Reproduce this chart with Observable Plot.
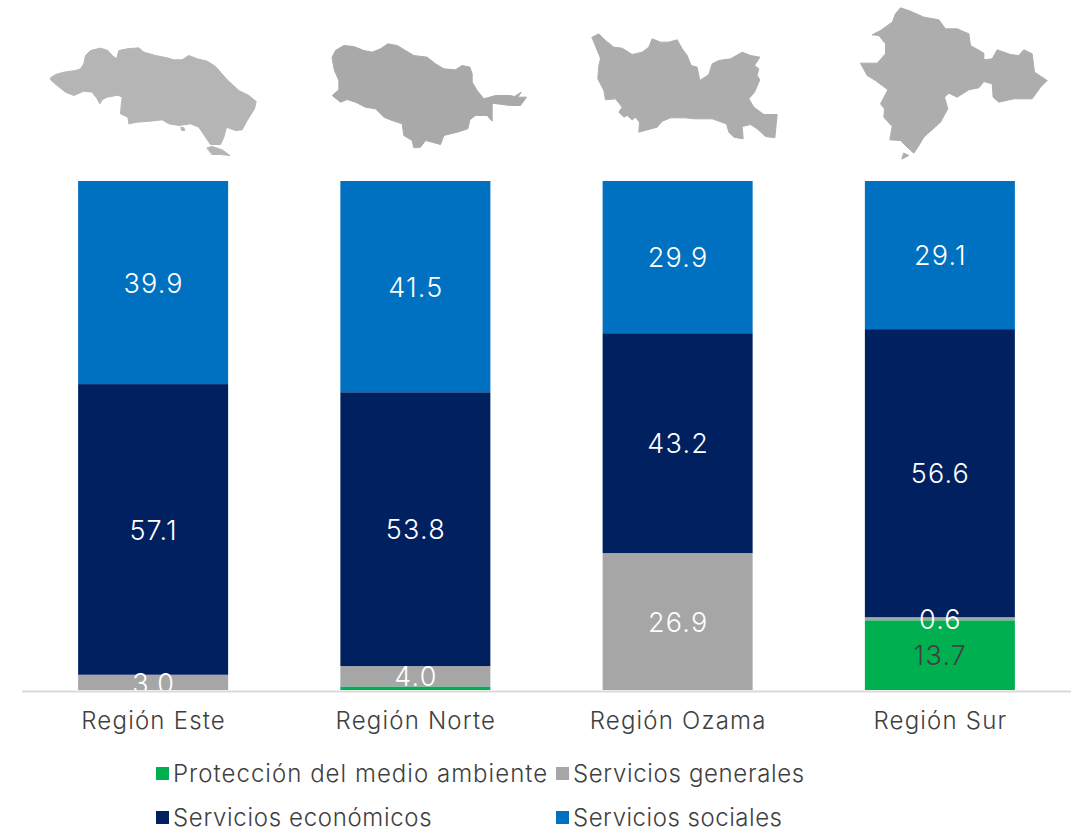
<!DOCTYPE html>
<html><head><meta charset="utf-8">
<script src="https://cdn.jsdelivr.net/npm/d3@7"></script>
<script src="https://cdn.jsdelivr.net/npm/@observablehq/plot@0.6"></script>
<style>
html,body{margin:0;padding:0;background:#fff;overflow:hidden}
body{width:1079px;height:829px;position:relative;font-family:Inter,sans-serif;font-weight:300}
svg{display:block}
#chart svg text{letter-spacing:1.2px}
#legend{position:absolute;left:0;top:752px;width:1079px;height:77px;color:#404040;font-size:24px}
.li{position:absolute;white-space:nowrap;line-height:24px}
.sw{position:absolute;width:13px;height:13px}
</style></head><body>
<div id="maps"></div><div id="chart"></div><div id="legend"></div>
<script>
const regions=["Región Este","Región Norte","Región Ozama","Región Sur"];
const seriesNames=["Protección del medio ambiente","Servicios generales","Servicios económicos","Servicios sociales"];
const seriesColors=["#00b050","#a6a6a6","#002060","#0070c0"];
const proteccion=[0,0.7,0,13.7];
const generales=[3.0,4.0,26.9,0.6];
const economicos=[57.1,53.8,43.2,56.6];
const sociales=[39.9,41.5,29.9,29.1];
const seriesValues=[proteccion,generales,economicos,sociales];

// Silhouettes (offset, rings at 3x)
const este=[[60,232],[75,222],[100,215],[135,210],[150,205],[160,190],[165,165],[180,150],[210,143],[232,150],[245,165],[258,175],[265,150],[290,145],[325,142],[340,155],[375,165],[410,172],[430,178],[455,178],[475,165],[500,175],[530,182],[555,198],[590,238],[625,270],[655,285],[677,303],[672,325],[650,360],[635,388],[615,390],[588,380],[580,410],[570,432],[540,432],[525,410],[505,380],[480,370],[445,375],[415,370],[395,358],[360,362],[320,365],[295,370],[292,350],[270,340],[272,315],[275,290],[262,284],[230,290],[215,298],[208,310],[200,295],[185,275],[160,272],[130,285],[105,275],[80,255],[62,240]];
const esteIsla1=[[530,442],[545,438],[575,448],[598,465],[570,462],[545,462]];
const esteIsla2=[[452,380],[460,382],[463,390],[454,390]];
const norte=[[905,170],[915,150],[940,135],[970,138],[1000,150],[1025,155],[1050,145],[1072,130],[1100,135],[1125,150],[1150,165],[1190,170],[1215,190],[1240,205],[1275,208],[1295,195],[1318,200],[1325,220],[1325,245],[1340,270],[1360,295],[1395,285],[1440,285],[1452,288],[1472,275],[1462,290],[1488,290],[1470,315],[1440,315],[1385,308],[1385,335],[1385,362],[1370,345],[1335,345],[1318,358],[1312,385],[1280,395],[1240,405],[1230,432],[1205,425],[1185,420],[1170,440],[1150,442],[1145,420],[1120,405],[1115,370],[1085,360],[1060,350],[1035,325],[1005,320],[975,305],[950,297],[930,305],[905,285],[925,268],[925,240],[912,210]];
const ozama=[[65,110],[85,100],[105,120],[130,140],[155,143],[185,162],[215,155],[235,140],[245,115],[270,125],[295,125],[320,118],[335,145],[350,165],[362,195],[380,200],[388,240],[415,222],[425,190],[445,180],[480,175],[515,155],[540,165],[568,170],[552,195],[565,205],[560,225],[568,238],[552,275],[535,295],[550,320],[580,342],[620,342],[613,412],[585,408],[560,385],[540,372],[515,378],[518,415],[490,410],[475,395],[468,370],[425,355],[375,355],[345,352],[300,352],[275,362],[260,380],[205,395],[207,365],[195,350],[185,358],[170,345],[160,350],[145,335],[155,320],[135,295],[105,298],[100,270],[82,235],[85,195],[90,175]];
const sur=[[975,40],[990,22],[1020,32],[1060,50],[1105,58],[1125,85],[1160,85],[1195,100],[1200,135],[1240,158],[1240,178],[1265,175],[1280,148],[1320,162],[1345,165],[1360,148],[1385,160],[1392,215],[1430,240],[1410,260],[1385,295],[1330,295],[1285,305],[1268,290],[1265,250],[1240,243],[1225,262],[1195,268],[1160,290],[1135,278],[1122,290],[1132,325],[1110,365],[1060,410],[1045,435],[1030,458],[1010,440],[990,420],[958,418],[965,378],[940,350],[942,325],[930,310],[952,268],[915,240],[890,225],[870,188],[920,188],[945,160],[945,130],[925,105],[905,103],[930,90],[965,65]];
const surIsla=[[1000,458],[1015,465],[995,475]];
const mapShapes=[
 {offset:30,color:"#b5b5b5",rings:[este,esteIsla1,esteIsla2]},
 {offset:30,color:"#a9a9a9",rings:[norte]},
 {offset:570,color:"#adadad",rings:[ozama]},
 {offset:570,color:"#adadad",rings:[sur,surIsla]}
];
const features=mapShapes.map(m=>({type:"Feature",properties:{color:m.color},geometry:{type:"MultiPolygon",coordinates:m.rings.map(r=>{const p=r.map(([x,y])=>[m.offset+x/3,y/3]);return [[...p,p[0]]];})}}));

document.getElementById("maps").append(Plot.plot({
  width:1079,height:170,margin:0,
  projection:d3.geoIdentity(),
  marks:[Plot.geo(features,{fill:d=>d.properties.color,stroke:d=>d.properties.color,strokeWidth:1,strokeLinejoin:"round"})]
}));

const rows=[];
seriesNames.forEach((s,i)=>regions.forEach((r,j)=>rows.push({region:r,series:s,value:seriesValues[i][j]})));
const labelOf=d=>(d.value===0||(d.series===seriesNames[0]&&d.value<1))?"":d.value.toFixed(1);

document.getElementById("chart").append(Plot.plot({
  width:1079,height:570,marginTop:11,marginBottom:50,marginLeft:22,marginRight:8,
  style:{fontFamily:"Inter,sans-serif",fontWeight:300},
  x:{domain:regions,paddingInner:0.428,paddingOuter:0.214,round:false,label:null},
  y:{domain:[0,100],axis:null},
  color:{domain:seriesNames,range:seriesColors},
  marks:[
    Plot.barY(rows,Plot.stackY({x:"region",y:"value",fill:"series",order:seriesNames})),
    Plot.ruleY([0],{stroke:"#d9d9d9",strokeWidth:2,dy:1}),
    Plot.text(rows,Plot.stackY({x:"region",y:"value",z:"series",order:seriesNames,text:labelOf,
      fill:d=>d.series===seriesNames[0]?"#404040":"#ffffff",fontSize:27,dy:1,clip:true})),
    Plot.axisX({tickSize:0,tickPadding:21,fontSize:24,color:"#404040",label:null})
  ]
}));

const legend=document.getElementById("legend");
const pos=[[156,173,22],[556,573,22],[156,173,66],[556,573,66]];
const tracking=[1.02,0.65,0.67,0.52];
seriesNames.forEach((s,i)=>{
  const [sx,tx,cy]=pos[i];
  const sw=document.createElement("div");sw.className="sw";
  sw.style.cssText=`left:${sx}px;top:${cy-7}px;background:${seriesColors[i]}`;
  const t=document.createElement("div");t.className="li";t.textContent=s;
  t.style.cssText=`left:${tx}px;top:${cy-12}px;letter-spacing:${tracking[i]}px`;
  legend.append(sw,t);
});
</script></body></html>
